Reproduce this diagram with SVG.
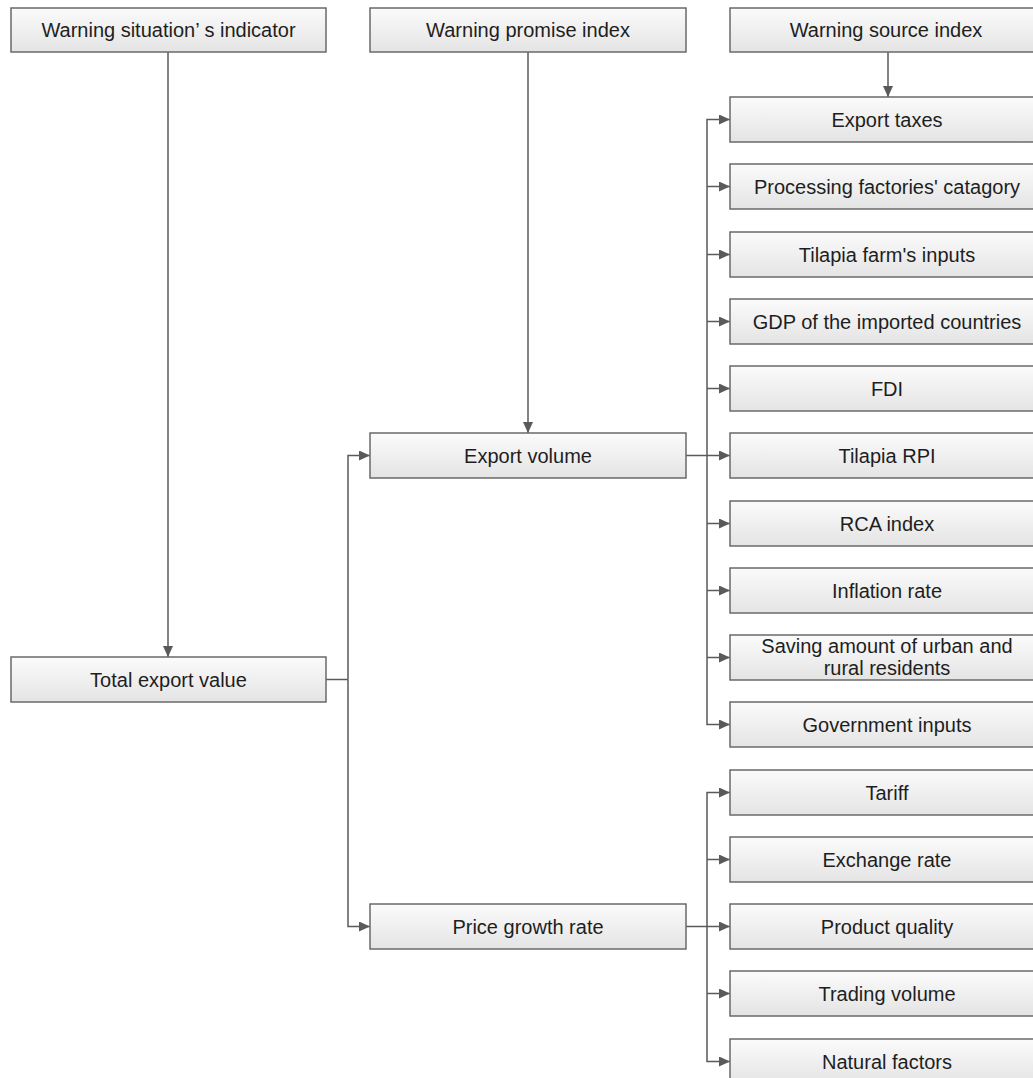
<svg xmlns="http://www.w3.org/2000/svg" width="1033" height="1078" viewBox="0 0 1033 1078">
<defs>
<linearGradient id="g" x1="0" y1="0" x2="0" y2="1">
<stop offset="0" stop-color="#fbfbfb"/>
<stop offset="1" stop-color="#e4e4e4"/>
</linearGradient>
<marker id="a" markerUnits="userSpaceOnUse" markerWidth="11" markerHeight="10" refX="11" refY="5" orient="auto">
<path d="M0,0 L11,5 L0,10 z" fill="#5a5a5a"/>
</marker>
<style>
.b{fill:url(#g);stroke:#6a6a6a;stroke-width:1.5}
.t{font-family:"Liberation Sans",Arial,sans-serif;font-size:20px;fill:#1e1e1e;text-anchor:middle}
.c{fill:none;stroke:#5a5a5a;stroke-width:1.5}
.c path.ar{marker-end:url(#a)}
</style>
</defs>
<rect width="1033" height="1078" fill="#ffffff"/>
<g id="connectors" class="c">
<path class="ar" d="M168,52 V657"/>
<path class="ar" d="M528,52 V433"/>
<path class="ar" d="M888,52 V97"/>
<path d="M326,679.5 H348"/>
<path class="ar" d="M348,679.5 V455.5 H370"/>
<path class="ar" d="M348,679.5 V926.5 H370"/>
<path class="ar" d="M686,455.5 H730"/>
<path class="ar" d="M707,455.5 V119.5 H730"/>
<path class="ar" d="M707,186.5 H730"/>
<path class="ar" d="M707,254.5 H730"/>
<path class="ar" d="M707,321.5 H730"/>
<path class="ar" d="M707,388.5 H730"/>
<path class="ar" d="M707,523.5 H730"/>
<path class="ar" d="M707,590.5 H730"/>
<path class="ar" d="M707,657.5 H730"/>
<path class="ar" d="M707,455.5 V724.5 H730"/>
<path d="M686,926.5 H707"/>
<path class="ar" d="M707,926.5 V792.5 H730"/>
<path class="ar" d="M707,859.5 H730"/>
<path class="ar" d="M707,926.5 H730"/>
<path class="ar" d="M707,993.5 H730"/>
<path class="ar" d="M707,926.5 V1061.5 H730"/>
</g>
<g id="n-situation"><rect class="b" x="11" y="8" width="315" height="44"/><text class="t" x="168.5" y="37">Warning situation’ s indicator</text></g>
<g id="n-promise"><rect class="b" x="370" y="8" width="316" height="44"/><text class="t" x="528" y="37">Warning promise index</text></g>
<g id="n-source"><rect class="b" x="730" y="8" width="316" height="44"/><text class="t" x="886" y="37">Warning source index</text></g>
<g id="n-total"><rect class="b" x="11" y="657" width="315" height="45"/><text class="t" x="168.5" y="686.5">Total export value</text></g>
<g id="n-volume"><rect class="b" x="370" y="433" width="316" height="45"/><text class="t" x="528" y="462.5">Export volume</text></g>
<g id="n-price"><rect class="b" x="370" y="904" width="316" height="45"/><text class="t" x="528" y="933.5">Price growth rate</text></g>
<g id="n-taxes"><rect class="b" x="730" y="97" width="316" height="45"/><text class="t" x="887" y="126.5">Export taxes</text></g>
<g id="n-factories"><rect class="b" x="730" y="164" width="316" height="45"/><text class="t" x="887" y="193.5">Processing factories' catagory</text></g>
<g id="n-farm"><rect class="b" x="730" y="232" width="316" height="45"/><text class="t" x="887" y="261.5">Tilapia farm's inputs</text></g>
<g id="n-gdp"><rect class="b" x="730" y="299" width="316" height="45"/><text class="t" x="887" y="328.5">GDP of the imported countries</text></g>
<g id="n-fdi"><rect class="b" x="730" y="366" width="316" height="45"/><text class="t" x="887" y="395.5">FDI</text></g>
<g id="n-rpi"><rect class="b" x="730" y="433" width="316" height="45"/><text class="t" x="887" y="462.5">Tilapia RPI</text></g>
<g id="n-rca"><rect class="b" x="730" y="501" width="316" height="45"/><text class="t" x="887" y="530.5">RCA index</text></g>
<g id="n-inflation"><rect class="b" x="730" y="568" width="316" height="45"/><text class="t" x="887" y="597.5">Inflation rate</text></g>
<g id="n-saving"><rect class="b" x="730" y="635" width="316" height="45"/><text class="t" x="887" y="653">Saving amount of urban and</text><text class="t" x="887" y="675">rural residents</text></g>
<g id="n-government"><rect class="b" x="730" y="702" width="316" height="45"/><text class="t" x="887" y="731.5">Government inputs</text></g>
<g id="n-tariff"><rect class="b" x="730" y="770" width="316" height="45"/><text class="t" x="887" y="799.5">Tariff</text></g>
<g id="n-exchange"><rect class="b" x="730" y="837" width="316" height="45"/><text class="t" x="887" y="866.5">Exchange rate</text></g>
<g id="n-quality"><rect class="b" x="730" y="904" width="316" height="45"/><text class="t" x="887" y="933.5">Product quality</text></g>
<g id="n-trading"><rect class="b" x="730" y="971" width="316" height="45"/><text class="t" x="887" y="1000.5">Trading volume</text></g>
<g id="n-natural"><rect class="b" x="730" y="1039" width="316" height="45"/><text class="t" x="887" y="1068.5">Natural factors</text></g>
</svg>
